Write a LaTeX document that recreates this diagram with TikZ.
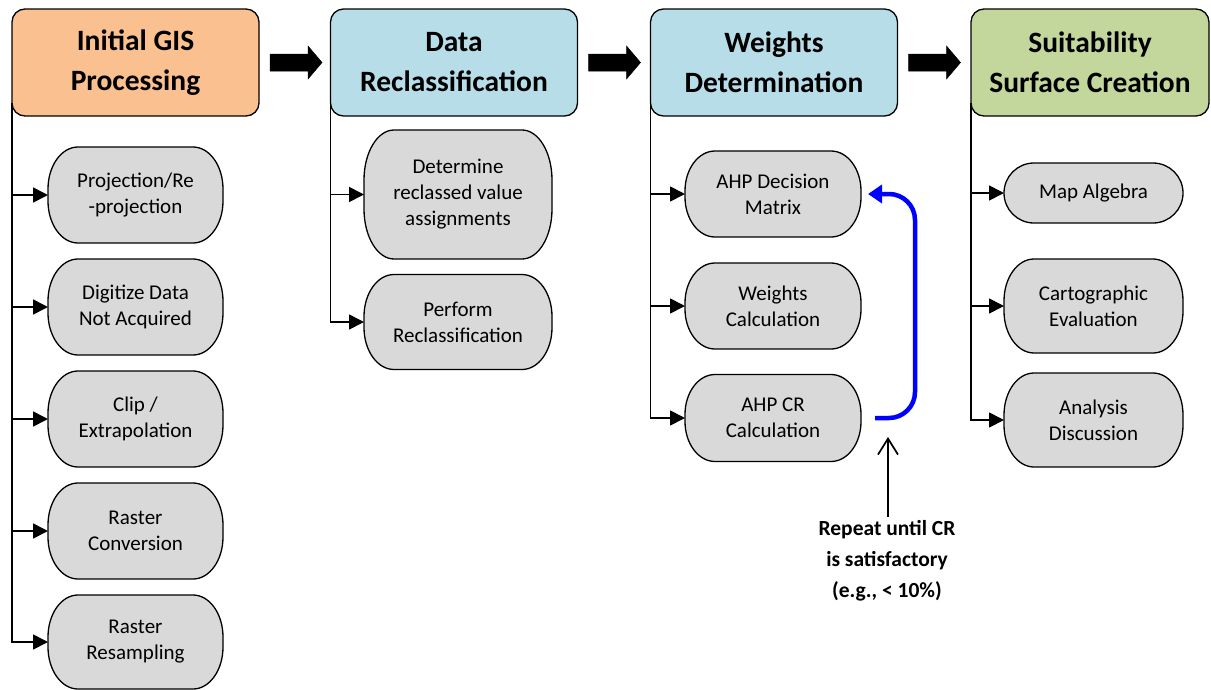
\documentclass[tikz,border=0pt]{standalone}
\usepackage{fontspec}
\setmainfont{Carlito}
\usetikzlibrary{arrows.meta,calc,backgrounds}
\definecolor{hOrange}{HTML}{FAC090}
\definecolor{hBlue}{HTML}{B7DEE8}
\definecolor{hGreen}{HTML}{C3D69B}
\definecolor{cGray}{HTML}{D9D9D9}
\definecolor{loopBlue}{HTML}{0000FF}

\newcommand\pill[7]{%
 \node[childtxt, minimum width=#4pt, minimum height=#5pt] (#1) at (#2,#3) {#7};
 \begin{pgfonlayer}{background}
 \draw[pillbox] ([xshift=30pt]#1.north west) -- ([xshift=-30pt]#1.north east)
   arc[start angle=90,end angle=0,x radius=30pt,y radius=#6pt]
   -- ([yshift=#6pt]#1.south east)
   arc[start angle=0,end angle=-90,x radius=30pt,y radius=#6pt]
   -- ([xshift=30pt]#1.south west)
   arc[start angle=-90,end angle=-180,x radius=30pt,y radius=#6pt]
   -- ([yshift=-#6pt]#1.north west)
   arc[start angle=180,end angle=90,x radius=30pt,y radius=#6pt]
   -- cycle;
 \end{pgfonlayer}}

\begin{document}
\begin{tikzpicture}[x=1pt,y=-1pt,
 header/.style={draw=black, line width=1.3pt, rounded corners=13pt, minimum width=247pt, minimum height=107pt, align=center, font=\fontsize{29.5}{40}\selectfont\bfseries, inner sep=0pt, outer sep=0pt},
 childtxt/.style={align=center, font=\fontsize{21}{26}\selectfont, inner sep=0pt, outer sep=0pt, text=black},
 pillbox/.style={draw=black, line width=1.3pt, fill=cGray},
 conn/.style={draw=black, line width=1.7pt, -{Triangle[length=15pt,width=15pt]}},
 blockarrow/.style={fill=black, draw=black, line width=0.5pt},
 loop/.style={draw=loopBlue, line width=4.5pt, rounded corners=26pt, -{Triangle[length=14pt,width=18pt]}},
 note/.style={align=center, font=\fontsize{21.5}{31}\selectfont\bfseries},
 upbarb/.style={draw=black, line width=1.7pt, -{Straight Barb[length=16pt,width=20pt]}}]

\useasboundingbox (0,0) rectangle (1211,689);

% headers
\node[header, fill=hOrange] (h1) at (135.5,62.5) {Initial GIS\\Processing};
\node[header, fill=hBlue] (h2) at (454,62.5) {Data\\Reclassification};
\node[header, fill=hBlue] (h3) at (774,62.5) {Weights\\Determination};
\node[header, fill=hGreen, minimum width=238pt] (h4) at (1090,62.5) {Suitability\\Surface Creation};

% block arrows between headers
\foreach \a in {h1,h2,h3}{
 \path[blockarrow] ($(\a.east)+(11,-8.5)$) -- ($(\a.east)+(49,-8.5)$) -- ($(\a.east)+(49,-16.5)$)
   -- ($(\a.east)+(63,0)$) -- ($(\a.east)+(49,16.5)$) -- ($(\a.east)+(49,8.5)$)
   -- ($(\a.east)+(11,8.5)$) -- cycle;
}

% column 1
\pill{c11}{135.5}{195}{175}{96}{42}{Projection/Re\\-projection}
\pill{c12}{135.5}{307}{175}{96}{42}{Digitize Data\\Not Acquired}
\pill{c13}{135.5}{419}{175}{96}{42}{Clip /\\Extrapolation}
\pill{c14}{135.5}{531}{175}{96}{42}{Raster\\Conversion}
\pill{c15}{135.5}{642}{175}{94}{42}{Raster\\Resampling}

% column 2
\pill{c21}{458}{194.5}{188}{129}{50}{Determine\\reclassed value\\assignments}
\pill{c22}{458}{322}{188}{95}{42}{Perform\\Reclassification}

% column 3
\pill{c31}{773}{194}{176}{86}{40}{AHP Decision\\Matrix}
\pill{c32}{773}{306}{176}{86}{40}{Weights\\Calculation}
\pill{c33}{773}{418}{176}{87}{40}{AHP CR\\Calculation}

% column 4
\pill{c41}{1093.5}{193}{179}{60}{30}{Map Algebra}
\pill{c42}{1093.5}{306}{179}{94}{42}{Cartographic\\Evaluation}
\pill{c43}{1093.5}{420}{179}{94}{42}{Analysis\\Discussion}

% connectors
\foreach \c in {c11,c12,c13,c14}{\draw[conn] (h1.west |- \c.west) -- (\c.west);}
\draw[conn] ([yshift=13pt]h1.south west) |- (c15.west);
\draw[conn] (h2.west |- c21.west) -- (c21.west);
\draw[conn] ([yshift=13pt]h2.south west) |- (c22.west);
\foreach \c in {c31,c32}{\draw[conn] (h3.west |- \c.west) -- (\c.west);}
\draw[conn] ([yshift=13pt]h3.south west) |- (c33.west);
\foreach \c in {c41,c42}{\draw[conn] (h4.west |- \c.west) -- (\c.west);}
\draw[conn] ([yshift=13pt]h4.south west) |- (c43.west);

% loop
\draw[loop] ([xshift=14pt]c33.east) -| ($(c31.east)+(54,0)$) -- ([xshift=7pt]c31.east);

% note
\node[note] (note) at (887,561) {Repeat until CR\\is satisfactory\\(e.g., < 10\%)};
\coordinate (crtip) at (888,437);
\draw[upbarb] (note.north -| crtip) -- (crtip);
\end{tikzpicture}
\end{document}
